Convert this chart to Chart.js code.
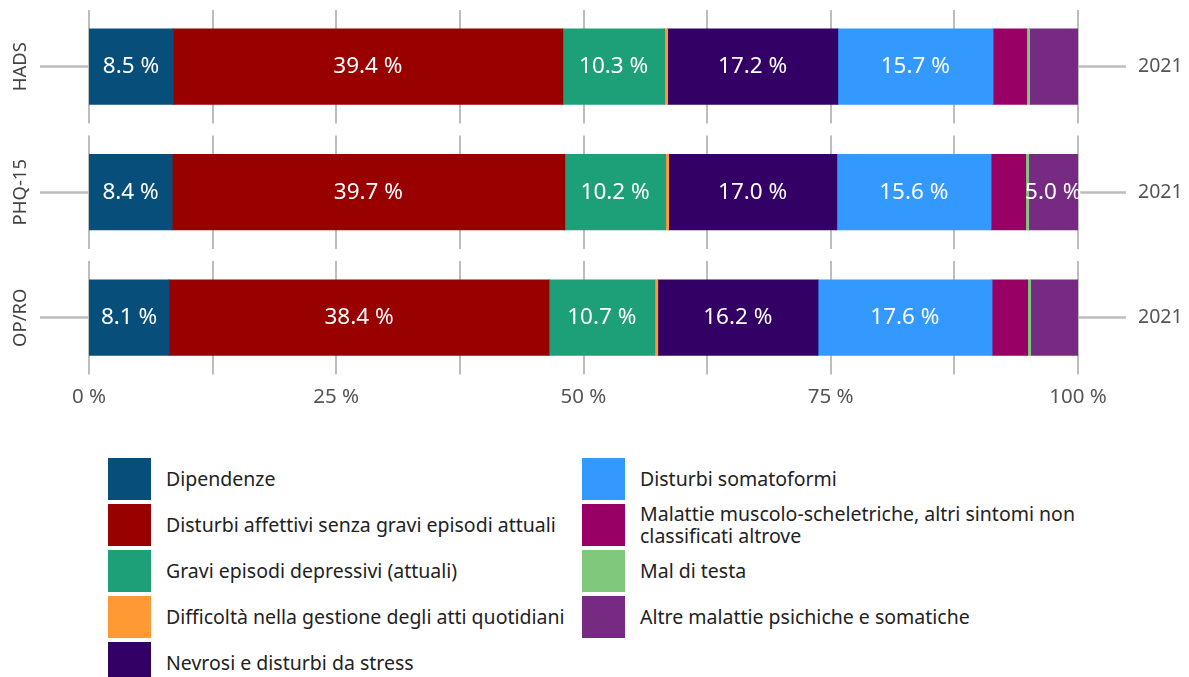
<!DOCTYPE html>
<html>
<head>
<meta charset="utf-8">
<script src="https://cdn.jsdelivr.net/npm/chart.js@4"></script>
<style>
  body { margin: 0; background: #fff; font-family: "Noto Sans", sans-serif; }
  #wrap { position: relative; width: 1189px; height: 677px; }
  #chartBox { position: absolute; left: 0; top: 0; width: 1189px; height: 420px; }
  #legend {
    position: absolute; left: 108px; top: 458px;
    display: grid; grid-auto-flow: column;
    grid-template-rows: repeat(5, 42px); grid-template-columns: 474px 520px;
    row-gap: 4px;
  }
  .item { display: flex; align-items: center; font-size: 19.5px; color: #222; line-height: 22px; }
  .sw { width: 43px; height: 42px; flex: none; margin-right: 15px; }
</style>
</head>
<body>
<div id="wrap">
  <div id="chartBox"><canvas id="myChart"></canvas></div>
  <div id="legend"></div>
</div>
<script>
const categories = ['HADS', 'PHQ-15', 'OP/RO'];
const years = ['2021', '2021', '2021'];

const seriesNames = [
  'Dipendenze',
  'Disturbi affettivi senza gravi episodi attuali',
  'Gravi episodi depressivi (attuali)',
  'Difficoltà nella gestione degli atti quotidiani',
  'Nevrosi e disturbi da stress',
  'Disturbi somatoformi',
  'Malattie muscolo-scheletriche, altri sintomi non classificati altrove',
  'Mal di testa',
  'Altre malattie psichiche e somatiche'
];
const seriesColors = ['#074f7a', '#990000', '#1d9f78', '#ff9933', '#330066', '#3399ff', '#990066', '#80c97c', '#772a82'];

const dipendenze = [8.5, 8.4, 8.1];
const affettivi = [39.4, 39.7, 38.4];
const depressivi = [10.3, 10.2, 10.7];
const difficolta = [0.3, 0.3, 0.3];
const nevrosi = [17.2, 17.0, 16.2];
const somatoformi = [15.7, 15.6, 17.6];
const muscolo = [3.4, 3.5, 3.6];
const testa = [0.3, 0.3, 0.3];
const altre = [4.9, 5.0, 4.8];

const seriesValues = [dipendenze, affettivi, depressivi, difficolta, nevrosi, somatoformi, muscolo, testa, altre];

const xTicks = [0, 12.5, 25, 37.5, 50, 62.5, 75, 87.5, 100];
const xLabels = ['0 %', '', '25 %', '', '50 %', '', '75 %', '', '100 %'];

const FONT = '"Noto Sans", sans-serif';
const gridColor = '#bdbdbd';

// vertical grid lines, broken between the rows
const rowGrid = {
  id: 'rowGrid',
  beforeDatasetsDraw(chart) {
    const ctx = chart.ctx, x = chart.scales.x, y = chart.scales.y;
    const half = (y.getPixelForValue(1) - y.getPixelForValue(0)) / 2 - 6;
    ctx.save();
    ctx.strokeStyle = gridColor;
    ctx.lineWidth = 2;
    xTicks.forEach(v => {
      const px = Math.round(x.getPixelForValue(v));
      categories.forEach((c, i) => {
        const py = y.getPixelForValue(i);
        ctx.beginPath();
        ctx.moveTo(px, py - half);
        ctx.lineTo(px, py + half);
        ctx.stroke();
      });
    });
    ctx.restore();
  }
};

// category names left (rotated), years right, value labels in the bars
const labelsPlugin = {
  id: 'labelsPlugin',
  afterDatasetsDraw(chart) {
    const ctx = chart.ctx, y = chart.scales.y, y2 = chart.scales.y2;
    ctx.save();
    ctx.textBaseline = 'middle';
    ctx.font = '18.5px ' + FONT;
    ctx.fillStyle = '#444';
    ctx.textAlign = 'center';
    categories.forEach((c, i) => {
      ctx.save();
      ctx.translate(21, y.getPixelForValue(i));
      ctx.rotate(-Math.PI / 2);
      ctx.fillText(c, 0, 0);
      ctx.restore();
    });
    ctx.font = '19.5px ' + FONT;
    ctx.fillStyle = '#555';
    ctx.textAlign = 'left';
    years.forEach((t, i) => {
      ctx.fillText(t, y2.right + 12, y2.getPixelForValue(i));
    });
    ctx.font = '22.5px ' + FONT;
    ctx.fillStyle = '#fff';
    ctx.textAlign = 'center';
    chart.data.datasets.forEach((ds, di) => {
      const meta = chart.getDatasetMeta(di);
      meta.data.forEach((bar, i) => {
        const v = ds.data[i];
        if (v < 5) return;
        const cx = (bar.x + bar.base) / 2;
        ctx.fillText(v.toFixed(1) + ' %', cx, bar.y);
      });
    });
    ctx.restore();
  }
};

const ctx = document.getElementById('myChart');

new Chart(ctx, {
  type: 'bar',
  data: {
    labels: categories,
    datasets: seriesNames.map((name, i) => ({
      label: name,
      data: seriesValues[i],
      backgroundColor: seriesColors[i],
      borderWidth: 0,
      inflateAmount: 0.5,
      categoryPercentage: 1,
      barPercentage: 0.6,
      yAxisID: 'y'
    }))
  },
  options: {
    indexAxis: 'y',
    responsive: true,
    maintainAspectRatio: false,
    animation: false,
    layout: { padding: { left: 40, right: 63, top: 4, bottom: 7 } },
    plugins: { legend: { display: false }, tooltip: { enabled: false } },
    scales: {
      x: {
        stacked: true,
        min: 0,
        max: 100,
        afterBuildTicks: s => { s.ticks = xTicks.map(v => ({ value: v })); },
        ticks: {
          autoSkip: false,
          maxRotation: 0,
          padding: 4,
          color: '#555',
          font: { family: FONT, size: 20.5 },
          callback: (v, i) => xLabels[i]
        },
        grid: { display: false, drawTicks: false },
        border: { display: false }
      },
      y: {
        stacked: true,
        offset: true,
        ticks: { display: false },
        grid: { offset: false, drawOnChartArea: false, tickLength: 49, tickColor: gridColor, tickWidth: 2.5 },
        border: { display: false }
      },
      y2: {
        type: 'category',
        position: 'right',
        labels: years,
        offset: true,
        ticks: { display: false },
        grid: { offset: false, drawOnChartArea: false, tickLength: 48, tickColor: gridColor, tickWidth: 2.5 },
        border: { display: false }
      }
    }
  },
  plugins: [rowGrid, labelsPlugin]
});

const legend = document.getElementById('legend');
seriesNames.forEach((name, i) => {
  const item = document.createElement('div');
  item.className = 'item';
  const sw = document.createElement('span');
  sw.className = 'sw';
  sw.style.background = seriesColors[i];
  const tx = document.createElement('span');
  tx.textContent = name;
  if (i === 6) tx.style.maxWidth = '445px';
  item.appendChild(sw);
  item.appendChild(tx);
  legend.appendChild(item);
});
</script>
</body>
</html>
